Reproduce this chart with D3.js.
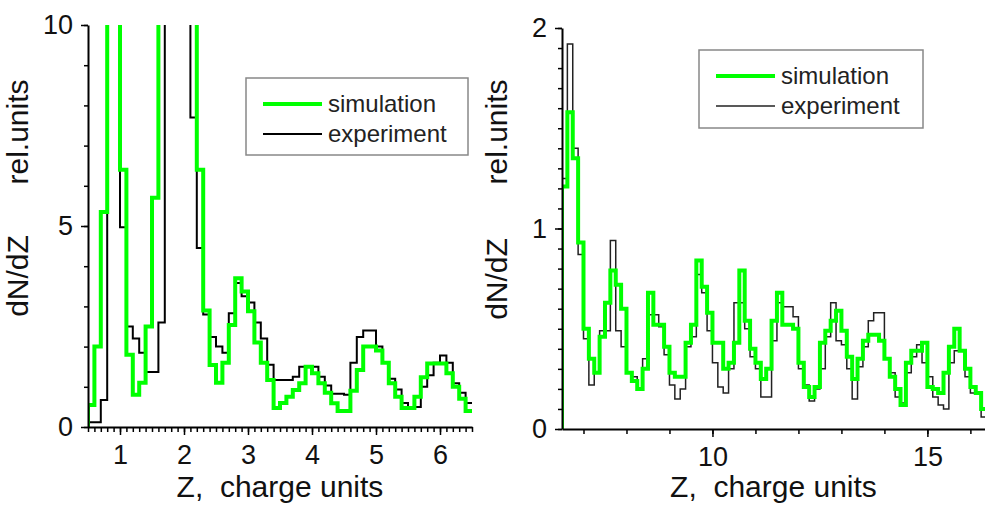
<!DOCTYPE html>
<html>
<head>
<meta charset="utf-8">
<script src="https://cdn.jsdelivr.net/npm/d3@7.9.0/dist/d3.min.js"></script>
<style>
  body { margin: 0; background: #fff; }
  svg { display: block; font-family: "Liberation Sans", Arial, sans-serif; }
</style>
</head>
<body>
<svg id="chart" width="985" height="510"></svg>
<script>
// --- data: histograms dN/dZ ---
// left panel: bins of 0.1 starting at Z = 0.5 (values above 10 are off-scale)
const leftBinStart = 0.5;
const leftBinWidth = 0.1;
const leftSimulation = [
  0.55, 2.0, 5.35, 12, 12, 6.4, 1.8, 0.8, 1.1, 2.5,
  5.7, 12, 12, 12, 12, 12, 12, 6.4, 2.9, 1.54,
  1.1, 1.6, 2.54, 3.7, 3.37, 2.88, 2.1, 1.6, 1.17, 0.47,
  0.6, 0.75, 0.92, 1.09, 1.5, 1.34, 1.09, 0.85, 0.59, 0.4,
  0.4, 0.9, 1.42, 2.0, 2.0, 1.9, 1.6, 1.09, 0.75, 0.47,
  0.47, 0.75, 1.24, 1.58, 1.58, 1.58, 1.34, 1.0, 0.7, 0.4
];
const leftExperiment = [
  0.12, 0.12, 0.67, 12, 12, 4.97, 2.5, 2.2, 1.85, 1.37,
  1.37, 2.6, 12, 12, 12, 12, 7.7, 4.45, 2.8, 2.24,
  2.0, 1.85, 2.83, 3.58, 3.25, 3.1, 2.6, 2.2, 1.55, 1.17,
  1.17, 1.17, 1.25, 1.5, 1.5, 1.5, 1.25, 1.03, 0.83, 0.83,
  0.8, 1.6, 2.24, 2.4, 2.4, 2.0, 1.6, 1.2, 0.93, 0.6,
  0.5, 0.5, 1.0, 1.29, 1.6, 1.78, 1.6, 1.09, 0.85, 0.6
];
const leftYTicks = [0, 5, 10];
const leftXTicks = [1, 2, 3, 4, 5, 6];

// right panel: bins of 0.125 starting at Z = 6.5
const rightBinStart = 6.5;
const rightBinWidth = 0.125;
const rightSimulation = [
  1.21, 1.58, 1.35, 0.93, 0.5, 0.35, 0.28, 0.46, 0.63, 0.79,
  0.72, 0.6, 0.28, 0.24, 0.2, 0.3, 0.68, 0.52, 0.52, 0.41,
  0.28, 0.26, 0.26, 0.43, 0.52, 0.84, 0.71, 0.58, 0.43, 0.43,
  0.3, 0.33, 0.43, 0.79, 0.54, 0.4, 0.33, 0.25, 0.3, 0.54,
  0.68, 0.52, 0.52, 0.5, 0.33, 0.21, 0.16, 0.21, 0.43, 0.49,
  0.54, 0.59, 0.49, 0.36, 0.25, 0.35, 0.44, 0.47, 0.47, 0.44,
  0.35, 0.26, 0.2, 0.12, 0.33, 0.39, 0.39, 0.43, 0.21, 0.2,
  0.18, 0.28, 0.41, 0.5, 0.39, 0.3, 0.21, 0.18, 0.1, 0.1
];
const rightExperiment = [
  1.25, 1.92, 1.4, 0.87, 0.45, 0.22, 0.28, 0.49, 0.49, 0.94,
  0.49, 0.41, 0.28, 0.26, 0.2, 0.35, 0.57, 0.57, 0.51, 0.37,
  0.22, 0.15, 0.2, 0.41, 0.46, 0.77, 0.68, 0.49, 0.33, 0.21,
  0.18, 0.3, 0.63, 0.63, 0.5, 0.36, 0.3, 0.16, 0.16, 0.44,
  0.63, 0.61, 0.61, 0.56, 0.3, 0.22, 0.14, 0.2, 0.3, 0.46,
  0.63, 0.44, 0.42, 0.3, 0.15, 0.31, 0.41, 0.54, 0.58, 0.58,
  0.35, 0.28, 0.16, 0.13, 0.28, 0.36, 0.42, 0.33, 0.26, 0.16,
  0.12, 0.1, 0.33, 0.39, 0.39, 0.26, 0.18, 0.18, 0.06, 0.06
];
const rightYTicks = [0, 1, 2];
const rightXTicks = [10, 15];

const legendLabels = ["simulation", "experiment"];
const xTitle = "Z,  charge units";
const yTitleA = "dN/dZ";
const yTitleB = "rel.units";

const svg = d3.select("#chart");
const fmt = d3.format("~g");

function drawPanel(p) {
  const x = d3.scaleLinear().domain(p.xDomain).range([p.left, p.right]);
  const y = d3.scaleLinear().domain(p.yDomain).range([p.bottom, p.top]);

  const g = svg.append("g");

  g.append("clipPath").attr("id", p.id + "-clip")
    .append("rect")
    .attr("x", p.left).attr("y", p.top)
    .attr("width", p.right - p.left).attr("height", p.bottom - p.top + 4);

  const stepLine = d3.line()
    .x(d => x(d[0]))
    .y(d => y(d[1]))
    .curve(d3.curveStepAfter);

  function steps(vals) {
    const pts = [[p.binStart, 0]];
    vals.forEach((v, i) => pts.push([p.binStart + i * p.binWidth, v]));
    pts.push([p.binStart + vals.length * p.binWidth, vals[vals.length - 1]]);
    return pts;
  }

  const plot = g.append("g").attr("clip-path", `url(#${p.id}-clip)`);
  plot.append("path")
    .attr("d", stepLine(steps(p.experiment)))
    .attr("fill", "none")
    .attr("stroke", p.expColor)
    .attr("stroke-width", p.expWidth);
  plot.append("path")
    .attr("d", stepLine(steps(p.simulation)))
    .attr("fill", "none")
    .attr("stroke", "#00ff00")
    .attr("stroke-width", 4);

  // y axis: minor then major
  g.append("g")
    .attr("transform", `translate(${p.left},0)`)
    .call(d3.axisLeft(y).tickValues(p.yMinor).tickSize(4).tickFormat(""))
    .call(a => a.select(".domain").remove());
  g.append("g")
    .attr("transform", `translate(${p.left},0)`)
    .call(d3.axisLeft(y).tickValues(p.yTicks).tickFormat(fmt)
      .tickSize(7).tickSizeOuter(0).tickPadding(8));

  // x axis: minor then major
  g.append("g")
    .attr("transform", `translate(0,${p.bottom})`)
    .call(d3.axisBottom(x).tickValues(p.xMinor).tickSize(5).tickFormat(""))
    .call(a => a.select(".domain").remove());
  g.append("g")
    .attr("transform", `translate(0,${p.bottom})`)
    .call(d3.axisBottom(x).tickValues(p.xTicks).tickFormat(fmt)
      .tickSize(8).tickSizeOuter(0).tickPadding(10));

  g.selectAll(".domain").attr("stroke", "#000").attr("stroke-width", 2);
  g.selectAll(".tick line").attr("stroke", "#000").attr("stroke-width", 1.5);
  g.selectAll(".tick text")
    .attr("font-family", '"Liberation Sans", Arial, sans-serif')
    .attr("font-size", 27)
    .attr("fill", "#111");

  // titles
  g.append("text")
    .attr("x", (p.left + p.right) / 2)
    .attr("y", 497)
    .attr("text-anchor", "middle")
    .attr("font-size", 30)
    .attr("fill", "#111")
    .style("white-space", "pre")
    .text(xTitle);

  [[yTitleA, p.yTitleAY], [yTitleB, p.yTitleBY]].forEach(([t, cy]) => {
    g.append("text")
      .attr("transform", `translate(${p.yTitleX},${cy}) rotate(-90)`)
      .attr("text-anchor", "middle")
      .attr("font-size", 30)
      .attr("fill", "#111")
      .text(t);
  });

  // legend
  const lg = g.append("g");
  lg.append("rect")
    .attr("x", p.legend.x).attr("y", p.legend.y)
    .attr("width", p.legend.w).attr("height", p.legend.h)
    .attr("fill", "#fff")
    .attr("stroke", "#888")
    .attr("stroke-width", 1.5);
  const items = [
    { label: legendLabels[0], color: "#00ff00", width: 4 },
    { label: legendLabels[1], color: p.expColor, width: p.expWidth }
  ];
  items.forEach((it, i) => {
    const ly = p.legend.y + 26 + i * 30;
    lg.append("line")
      .attr("x1", p.legend.x + 17).attr("x2", p.legend.x + 76)
      .attr("y1", ly).attr("y2", ly)
      .attr("stroke", it.color).attr("stroke-width", it.width);
    lg.append("text")
      .attr("x", p.legend.x + 82)
      .attr("y", ly + 8)
      .attr("font-size", 24)
      .attr("fill", "#222")
      .text(it.label);
  });
}

drawPanel({
  id: "left",
  left: 88, right: 472, top: 25, bottom: 427,
  xDomain: [0.5, 6.5], yDomain: [0, 10],
  binStart: leftBinStart, binWidth: leftBinWidth,
  simulation: leftSimulation, experiment: leftExperiment,
  expColor: "#000", expWidth: 2,
  yTicks: leftYTicks, yMinor: d3.range(0, 10.01, 1),
  xTicks: leftXTicks, xMinor: d3.range(0.5, 6.51, 0.1),
  yTitleX: 28, yTitleAY: 276, yTitleBY: 132,
  legend: { x: 246, y: 78, w: 222, h: 77 }
});

drawPanel({
  id: "right",
  left: 562, right: 985, top: 28, bottom: 429,
  xDomain: [6.5, 16.34], yDomain: [0, 2],
  binStart: rightBinStart, binWidth: rightBinWidth,
  simulation: rightSimulation, experiment: rightExperiment,
  expColor: "#222", expWidth: 1.5,
  yTicks: rightYTicks, yMinor: d3.range(0, 2.01, 0.1),
  xTicks: rightXTicks, xMinor: d3.range(7, 16.5, 1),
  yTitleX: 507, yTitleAY: 279, yTitleBY: 132,
  legend: { x: 699, y: 50, w: 224, h: 78 }
});
</script>
</body>
</html>
